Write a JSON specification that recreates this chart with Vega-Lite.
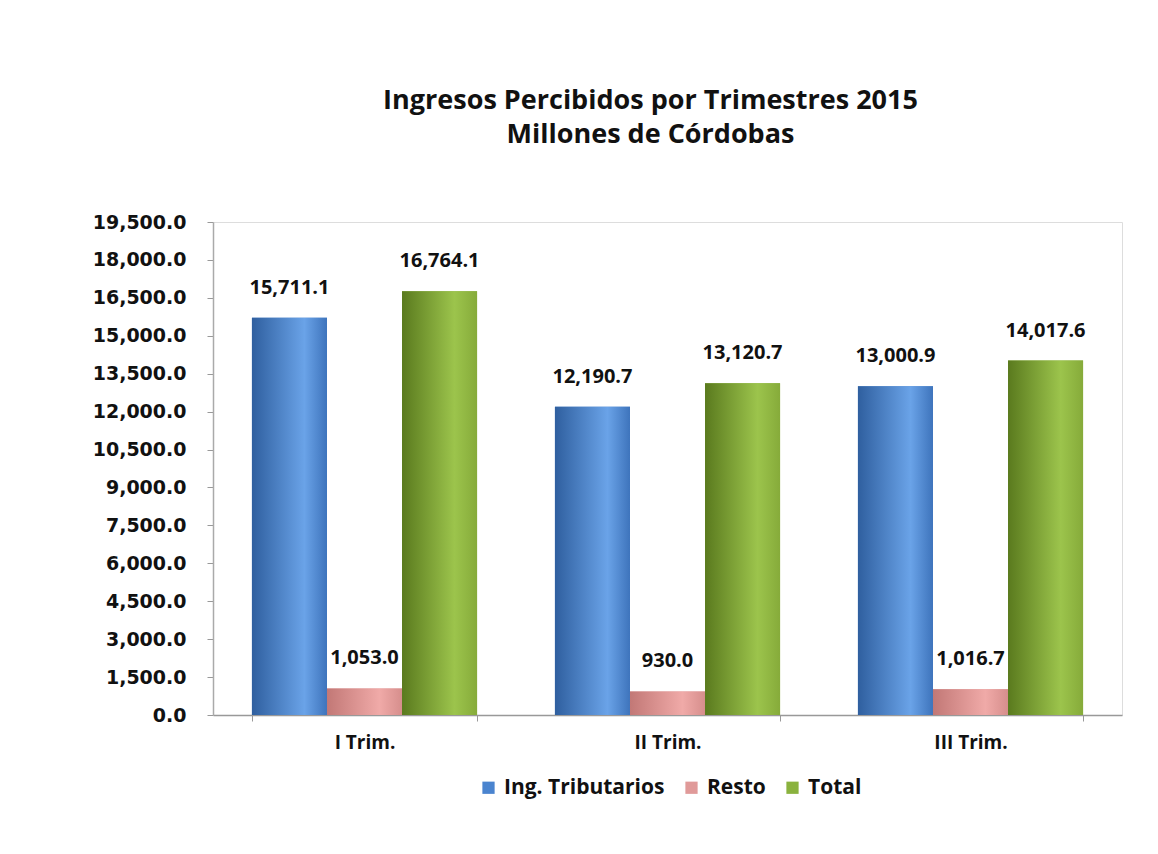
{
  "$schema": "https://vega.github.io/schema/vega-lite/v6.json",
  "width": 909,
  "height": 493,
  "autosize": {"type": "none"},
  "padding": {"left": 213, "top": 222, "right": 36, "bottom": 139},
  "background": "white",
  "title": {
    "text": ["Ingresos Percibidos por Trimestres  2015", "Millones de Córdobas"],
    "font": "Open Sans",
    "fontSize": 27,
    "fontWeight": "bold",
    "lineHeight": 34,
    "anchor": "middle",
    "offset": 64,
    "dx": -17,
    "color": "#111111"
  },
  "data": {
    "values": [
      {"trim": "I Trim.", "serie": "Ing. Tributarios", "valor": 15711.1},
      {"trim": "I Trim.", "serie": "Resto", "valor": 1053.0},
      {"trim": "I Trim.", "serie": "Total", "valor": 16764.1},
      {"trim": "II Trim.", "serie": "Ing. Tributarios", "valor": 12190.7},
      {"trim": "II Trim.", "serie": "Resto", "valor": 930.0},
      {"trim": "II Trim.", "serie": "Total", "valor": 13120.7},
      {"trim": "III Trim.", "serie": "Ing. Tributarios", "valor": 13000.9},
      {"trim": "III Trim.", "serie": "Resto", "valor": 1016.7},
      {"trim": "III Trim.", "serie": "Total", "valor": 14017.6}
    ]
  },
  "encoding": {
    "x": {
      "field": "trim",
      "type": "nominal",
      "sort": ["I Trim.", "II Trim.", "III Trim."],
      "scale": {"paddingInner": 0.257, "paddingOuter": 0.1285},
      "axis": {
        "title": null,
        "labelAngle": 0,
        "labelFont": "Open Sans",
        "labelFontWeight": "bold",
        "labelFontSize": 19,
        "labelColor": "#111111",
        "labelPadding": 12,
        "tickBand": "extent",
        "tickColor": "#999999",
        "tickSize": 6,
        "domainColor": "#999999",
        "domainWidth": 1.5
      }
    },
    "xOffset": {
      "field": "serie",
      "type": "nominal",
      "sort": ["Ing. Tributarios", "Resto", "Total"],
      "scale": {"paddingInner": 0, "paddingOuter": 0}
    },
    "y": {
      "field": "valor",
      "type": "quantitative",
      "scale": {"domain": [0, 19500], "nice": false},
      "axis": {
        "title": null,
        "values": [0, 1500, 3000, 4500, 6000, 7500, 9000, 10500, 12000, 13500, 15000, 16500, 18000, 19500],
        "format": ",.1f",
        "grid": false,
        "labelFont": "DejaVu Sans",
        "labelFontWeight": "bold",
        "labelFontSize": 19,
        "labelColor": "#111111",
        "labelPadding": 21,
        "tickColor": "#999999",
        "tickSize": 6,
        "domainColor": "#aaaaaa",
        "domainWidth": 1.5
      }
    }
  },
  "layer": [
    {
      "mark": {"type": "bar"},
      "encoding": {
        "color": {
          "field": "serie",
          "type": "nominal",
          "sort": ["Ing. Tributarios", "Resto", "Total"],
          "scale": {"domain": ["Ing. Tributarios", "Resto", "Total"], "range": ["#4a84cf", "#e09a99", "#8ab23e"]},
          "legend": {
            "orient": "none",
            "legendX": 265,
            "legendY": 555,
            "direction": "horizontal",
            "title": null,
            "symbolType": "square",
            "symbolSize": 150,
            "symbolStrokeWidth": 0,
            "labelFont": "Open Sans",
            "labelFontWeight": "bold",
            "labelFontSize": 21,
            "labelLimit": 400,
            "labelColor": "#111111",
            "labelOffset": 5,
            "columnPadding": 16
          }
        }
      }
    },
    {
      "transform": [{"filter": "datum.serie === 'Ing. Tributarios'"}],
      "mark": {
        "type": "bar",
        "fill": {"gradient": "linear", "x1": 0, "x2": 1, "y1": 0, "y2": 0,
          "stops": [{"offset": 0, "color": "#2f5f9f"}, {"offset": 0.7, "color": "#6aa3e8"}, {"offset": 1, "color": "#3e74bc"}]}
      }
    },
    {
      "transform": [{"filter": "datum.serie === 'Resto'"}],
      "mark": {
        "type": "bar",
        "fill": {"gradient": "linear", "x1": 0, "x2": 1, "y1": 0, "y2": 0,
          "stops": [{"offset": 0, "color": "#c27876"}, {"offset": 0.7, "color": "#f0aaa8"}, {"offset": 1, "color": "#d68e8c"}]}
      }
    },
    {
      "transform": [{"filter": "datum.serie === 'Total'"}],
      "mark": {
        "type": "bar",
        "fill": {"gradient": "linear", "x1": 0, "x2": 1, "y1": 0, "y2": 0,
          "stops": [{"offset": 0, "color": "#5a7a1e"}, {"offset": 0.7, "color": "#9cc44c"}, {"offset": 1, "color": "#86ab3a"}]}
      }
    },
    {
      "mark": {"type": "text", "dy": -20, "font": "Open Sans", "fontWeight": "bold", "fontSize": 20, "color": "#111111", "baseline": "bottom"},
      "encoding": {
        "text": {"field": "valor", "type": "quantitative", "format": ",.1f"}
      }
    }
  ]
}
